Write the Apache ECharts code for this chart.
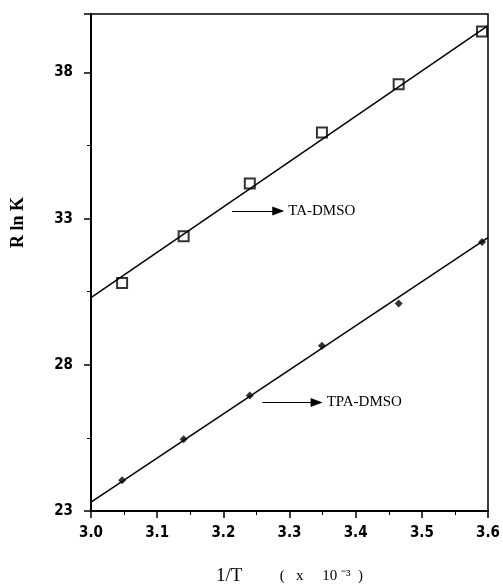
<!DOCTYPE html>
<html>
<head>
<meta charset="utf-8">
<script src="https://cdn.jsdelivr.net/npm/echarts@6/dist/echarts.min.js"></script>
<style>
  html, body { margin: 0; padding: 0; background: #fff; }
  #chart { width: 503px; height: 586px; }
</style>
</head>
<body>
<div id="chart"></div>
<script>
// 1/T (x 10^-3) and R ln K
const invT = [3.047, 3.14, 3.24, 3.349, 3.465, 3.591]
const taDmso = [30.8, 32.4, 34.2, 35.95, 37.6, 39.4]
const tpaDmso = [24.05, 25.45, 26.95, 28.65, 30.1, 32.2]
// fitted straight lines, ends at the axis limits
const fitX = [3.0, 3.6]
const taFit = [30.3, 39.6]
const tpaFit = [23.3, 32.35]

const xTicks = ['3.0', '3.1', '3.2', '3.3', '3.4', '3.5', '3.6']

const pairs = (xs, ys) => xs.map((x, i) => [x, ys[i]])

const myChart = echarts.init(document.getElementById('chart'))

const tickFont = {
  color: '#000',
  fontFamily: '"DejaVu Sans Condensed", "Liberation Sans Narrow", sans-serif',
  fontWeight: 'bold',
  fontSize: 15
}
const noteLabel = {
  show: true,
  position: 'end',
  distance: 10,
  color: '#000',
  fontFamily: '"Liberation Serif", serif',
  fontSize: 15
}

let option = {
  animation: false,
  grid: {
    left: 91,
    right: 15,
    top: 14,
    bottom: 75,
    outerBoundsMode: 'none',
    show: true,
    borderColor: '#000',
    borderWidth: 1.5
  },
  xAxis: {
    type: 'value',
    min: 3.0,
    max: 3.6,
    interval: 0.1,
    name: '{a|1/T}{b|          (   x     10 ⁻³  )}',
    nameLocation: 'middle',
    nameGap: 56,
    nameTextStyle: {
      color: '#000',
      fontFamily: '"Liberation Serif", serif',
      fontSize: 15,
      rich: {
        a: { fontFamily: '"Liberation Serif", serif', fontSize: 19, color: '#000' },
        b: { fontFamily: '"Liberation Serif", serif', fontSize: 15, color: '#000' }
      }
    },
    axisLine: { lineStyle: { color: '#000', width: 2 } },
    axisTick: { inside: false, length: 7, lineStyle: { color: '#000', width: 1.5 } },
    minorTick: { show: true, splitNumber: 2, length: 4, lineStyle: { color: '#000' } },
    splitLine: { show: false },
    axisLabel: Object.assign({ margin: 15, formatter: (v) => xTicks[Math.round((v - 3.0) * 10)] }, tickFont)
  },
  yAxis: {
    type: 'value',
    min: 23,
    max: 40,
    interval: 5,
    name: 'R ln K',
    nameLocation: 'middle',
    nameGap: 64,
    nameRotate: 90,
    nameTextStyle: {
      color: '#000',
      fontFamily: '"Liberation Serif", serif',
      fontWeight: 'bold',
      fontSize: 18,
      padding: [0, 0, 0, 80]
    },
    axisLine: { show: true, lineStyle: { color: '#000', width: 2 } },
    axisTick: { inside: false, length: 7, lineStyle: { color: '#000', width: 1.5 } },
    minorTick: { show: true, splitNumber: 2, length: 4, lineStyle: { color: '#000' } },
    splitLine: { show: false },
    axisLabel: Object.assign({ margin: 18, showMaxLabel: false }, tickFont)
  },
  series: [
    {
      name: 'TA-DMSO fit',
      type: 'line',
      data: pairs(fitX, taFit),
      symbol: 'none',
      lineStyle: { color: '#000', width: 1.5 },
      silent: true,
      markLine: {
        silent: true,
        symbol: ['none', 'triangle'],
        symbolSize: [9, 12],
        lineStyle: { color: '#000', type: 'solid', width: 1.2 },
        label: Object.assign({ formatter: 'TA-DMSO' }, noteLabel),
        data: [[{ coord: [3.213, 33.26] }, { coord: [3.283, 33.26] }]]
      }
    },
    {
      name: 'TPA-DMSO fit',
      type: 'line',
      data: pairs(fitX, tpaFit),
      symbol: 'none',
      lineStyle: { color: '#000', width: 1.5 },
      silent: true,
      markLine: {
        silent: true,
        symbol: ['none', 'triangle'],
        symbolSize: [9, 12],
        lineStyle: { color: '#000', type: 'solid', width: 1.2 },
        label: Object.assign({ formatter: 'TPA-DMSO' }, noteLabel),
        data: [[{ coord: [3.259, 26.71] }, { coord: [3.341, 26.71] }]]
      }
    },
    {
      name: 'TA-DMSO',
      type: 'scatter',
      data: pairs(invT, taDmso),
      symbol: 'rect',
      symbolSize: 10,
      itemStyle: { color: '#fff', borderColor: '#000', borderWidth: 2 }
    },
    {
      name: 'TPA-DMSO',
      type: 'scatter',
      data: pairs(invT, tpaDmso),
      symbol: 'diamond',
      symbolSize: 8,
      itemStyle: { color: '#000' }
    }
  ]
}

myChart.setOption(option)
</script>
</body>
</html>
